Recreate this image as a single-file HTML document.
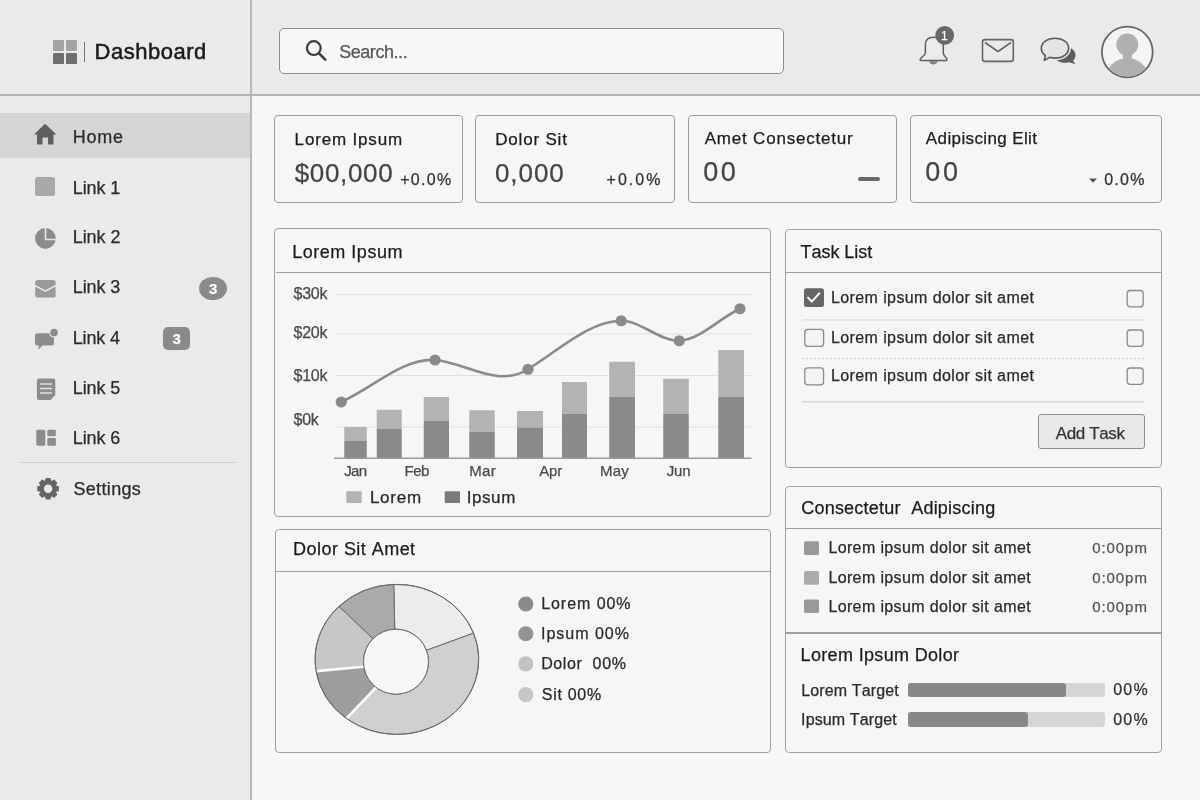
<!DOCTYPE html>
<html><head><meta charset="utf-8"><title>Dashboard</title>
<style>
html,body{margin:0;padding:0;width:1200px;height:800px;overflow:hidden;background:#f8f8f8}
body{position:relative;font-family:"Liberation Sans",sans-serif;filter:grayscale(1)}
.t{-webkit-text-stroke:0.25px currentColor}
.b{position:absolute}
.t{position:absolute;line-height:1;white-space:nowrap;font-kerning:none}
svg{position:absolute;left:0;top:0}
</style></head><body>
<div class="b" style="left:0px;top:0px;width:1200px;height:800px;background:#f7f7f7"></div>
<div class="b" style="left:0px;top:0px;width:251px;height:800px;background:#eaeaea"></div>
<div class="b" style="left:251px;top:0px;width:949px;height:94px;background:#eaeaea"></div>
<div class="b" style="left:0px;top:113px;width:250px;height:45px;background:#d5d5d5"></div>
<div class="b" style="left:250px;top:0px;width:2px;height:800px;background:#b9b9b9"></div>
<div class="b" style="left:0px;top:94px;width:1200px;height:2px;background:#b6b6b6"></div>
<div class="b" style="left:20px;top:462px;width:216px;height:1px;background:#d2d2d2"></div>
<div class="b" style="left:83.5px;top:42px;width:1.5px;height:20px;background:#777"></div>
<div class="b" style="left:279px;top:28.2px;width:505px;height:45.6px;background:#f7f7f7;border:1.5px solid #8c8c8c;border-radius:5px;box-sizing:border-box"></div>
<div class="b" style="left:199.1px;top:276.9px;width:27.6px;height:22.9px;background:#8a8a8a;border-radius:50%"></div>
<div class="b" style="left:162.8px;top:327px;width:27.4px;height:22.7px;background:#8a8a8a;border-radius:5px"></div>
<div class="b" style="left:274px;top:114.5px;width:188.5px;height:88px;background:#f6f6f6;border:1.2px solid #9c9c9c;border-radius:4px;box-sizing:border-box"></div>
<div class="b" style="left:475.1px;top:114.5px;width:200.1px;height:88px;background:#f6f6f6;border:1.2px solid #9c9c9c;border-radius:4px;box-sizing:border-box"></div>
<div class="b" style="left:687.8px;top:114.5px;width:209.2px;height:88px;background:#f6f6f6;border:1.2px solid #9c9c9c;border-radius:4px;box-sizing:border-box"></div>
<div class="b" style="left:909.9px;top:114.5px;width:252.5px;height:88px;background:#f6f6f6;border:1.2px solid #9c9c9c;border-radius:4px;box-sizing:border-box"></div>
<div class="b" style="left:857.6px;top:177px;width:22.4px;height:4px;background:#6a6a6a;border-radius:2px"></div>
<div class="b" style="left:274.3px;top:228.3px;width:496.8px;height:289px;background:#f6f6f6;border:1.2px solid #a0a0a0;border-radius:4px;box-sizing:border-box"></div>
<div class="b" style="left:275.5px;top:272px;width:494.5px;height:1.2px;background:#a0a0a0"></div>
<div class="b" style="left:784.8px;top:228.5px;width:377.4px;height:239.3px;background:#f6f6f6;border:1.2px solid #a0a0a0;border-radius:4px;box-sizing:border-box"></div>
<div class="b" style="left:785.8px;top:272px;width:375.4px;height:1.2px;background:#a0a0a0"></div>
<div class="b" style="left:274.5px;top:529px;width:496px;height:223.5px;background:#f6f6f6;border:1.2px solid #a0a0a0;border-radius:4px;box-sizing:border-box"></div>
<div class="b" style="left:275.5px;top:570.6px;width:494.5px;height:1.2px;background:#a0a0a0"></div>
<div class="b" style="left:784.8px;top:485.5px;width:377.4px;height:267px;background:#f6f6f6;border:1.2px solid #a0a0a0;border-radius:4px;box-sizing:border-box"></div>
<div class="b" style="left:785.8px;top:527.6px;width:375.4px;height:1.2px;background:#a0a0a0"></div>
<div class="b" style="left:785.8px;top:632.4px;width:375.4px;height:1.2px;background:#a0a0a0"></div>
<div class="b" style="left:1038.3px;top:414.3px;width:106.7px;height:35.2px;background:#e9e9e9;border:1.2px solid #8e8e8e;border-radius:3px;box-sizing:border-box"></div>
<div class="b" style="left:908.4px;top:682.7px;width:196.6px;height:14.6px;background:#d6d6d6;border-radius:3px"></div>
<div class="b" style="left:908.4px;top:682.7px;width:157.6px;height:14.6px;background:#888;border-radius:3px"></div>
<div class="b" style="left:908.4px;top:712px;width:196.6px;height:14.6px;background:#d6d6d6;border-radius:3px"></div>
<div class="b" style="left:908.4px;top:712px;width:119.6px;height:14.6px;background:#888;border-radius:3px"></div>
<svg width="1200" height="800" viewBox="0 0 1200 800">
<rect x="53" y="40" width="11" height="11" rx="1" fill="#a3a3a3"/>
<rect x="66" y="40" width="11" height="11" rx="1" fill="#a3a3a3"/>
<rect x="53" y="53" width="11" height="11" rx="1" fill="#6f6f6f"/>
<rect x="66" y="53" width="11" height="11" rx="1" fill="#6f6f6f"/>
<circle cx="313.8" cy="48.1" r="6.9" fill="none" stroke="#3c3c3c" stroke-width="2.2"/>
<line x1="319" y1="53.3" x2="325.3" y2="59.6" stroke="#3c3c3c" stroke-width="2.6" stroke-linecap="round"/>
<path d="M925.4 53 L925.4 44.5 C925.4 40 928.5 37.3 933.8 37.3 C939 37.3 943.3 40 943.3 44.5 L943.3 53 C943.3 56 947 57.5 947 59.5 Q947 60.6 945.8 60.6 L921.3 60.6 Q920.1 60.6 920.1 59.5 C920.1 57.5 925.4 56 925.4 53 Z" fill="#ececec" stroke="#5e5e5e" stroke-width="1.5" stroke-linejoin="round"/>
<path d="M929.8 61.3 A3.6 2.8 0 0 0 937 61.3 Z" fill="#8a8a8a" stroke="#777" stroke-width="0.8"/>
<circle cx="944.7" cy="35.3" r="9.4" fill="#686868"/>
<rect x="982.5" y="39.6" width="30.8" height="21.8" rx="2.5" fill="none" stroke="#666" stroke-width="1.6"/>
<path d="M985 42.5 L998 51.5 L1011 42.5" fill="none" stroke="#666" stroke-width="1.6" stroke-linejoin="round"/>
<path d="M1054 55 C1054 50 1059 47 1065 47 C1071 47 1075.5 50.5 1075.5 55 C1075.5 57.5 1074.5 59.5 1073 60.8 L1075.5 64.2 L1069 62.3 Q1067 62.8 1065 62.8 C1059 62.8 1054 59.5 1054 55 Z" fill="#5e5e5e"/>
<path d="M1055 38.3 C1047 38.3 1041.3 42.5 1041.3 48.2 C1041.3 51.5 1043 54 1045.3 55.5 L1044.3 60.4 L1050 57.3 Q1052.5 58.1 1055 58.1 C1063 58.1 1068.6 53.9 1068.6 48.2 C1068.6 42.5 1063 38.3 1055 38.3 Z" fill="none" stroke="#ececec" stroke-width="4.5" stroke-linejoin="round"/>
<path d="M1055 38.3 C1047 38.3 1041.3 42.5 1041.3 48.2 C1041.3 51.5 1043 54 1045.3 55.5 L1044.3 60.4 L1050 57.3 Q1052.5 58.1 1055 58.1 C1063 58.1 1068.6 53.9 1068.6 48.2 C1068.6 42.5 1063 38.3 1055 38.3 Z" fill="#e4e4e4" stroke="#5a5a5a" stroke-width="1.6" stroke-linejoin="round"/>
<defs><clipPath id="av"><circle cx="1127.3" cy="52" r="24.6"/></clipPath></defs>
<circle cx="1127.3" cy="52" r="25.4" fill="#f4f4f4" stroke="#666" stroke-width="1.8"/>
<g clip-path="url(#av)" fill="#b0b0b0"><circle cx="1127.3" cy="44.5" r="11"/><rect x="1123" y="52" width="9" height="8"/><ellipse cx="1127.3" cy="80" rx="22" ry="22"/></g>
<path d="M45 123.8 L34 134.5 L37 134.5 L37 144.4 L42.5 144.4 L42.5 137.5 L48 137.5 L48 144.4 L53.5 144.4 L53.5 134.5 L56.5 134.5 Z" fill="#5f5f5f"/>
<rect x="35" y="177" width="20" height="19" rx="2.5" fill="#a9a9a9"/>
<circle cx="45.4" cy="238.5" r="10.4" fill="#8c8c8c"/><path d="M45.5 227.5 L45.5 239.6 L56.5 239.6" fill="none" stroke="#eaeaea" stroke-width="1.5"/>
<rect x="35.2" y="280" width="20.4" height="17.6" rx="2.2" fill="#9a9a9a"/><path d="M35 285.6 L45.4 291.2 L55.8 285.6" fill="none" stroke="#eeeeee" stroke-width="1.5" stroke-linejoin="round"/>
<path d="M37.3 333.3 L51.5 333.3 Q54 333.3 54 335.8 L54 343 Q54 345.5 51.5 345.5 L42.5 345.5 L38.3 349.8 L38.8 345.5 L37.3 345.5 Q35 345.5 35 343 L35 335.8 Q35 333.3 37.3 333.3 Z" fill="#8c8c8c"/><circle cx="54.1" cy="332.6" r="4.4" fill="#8c8c8c" stroke="#ebebeb" stroke-width="1.2"/>
<path d="M39 378.6 L53 378.6 Q55.3 378.6 55.3 381 L55.3 395 L50.5 400 L39 400 Q36.9 400 36.9 398 L36.9 381 Q36.9 378.6 39 378.6 Z" fill="#8c8c8c"/><g stroke="#e6e6e6" stroke-width="1.4"><line x1="40" y1="384" x2="52" y2="384"/><line x1="40" y1="388.5" x2="52" y2="388.5"/><line x1="40" y1="393" x2="52" y2="393"/></g>
<rect x="36.3" y="429.7" width="9" height="16" rx="1.5" fill="#8c8c8c"/><rect x="47.3" y="429.7" width="8.6" height="6.5" rx="1.2" fill="#8c8c8c"/><rect x="47.3" y="438" width="8.6" height="7.7" rx="1.2" fill="#8c8c8c"/>
<g fill="#666"><circle cx="48.1" cy="488.7" r="8"/><path d="M45.1 482.7 L46.2 478.5 L50.0 478.5 L51.1 482.7 Z" stroke="#666" stroke-width="1.2" stroke-linejoin="round" transform="rotate(0 48.1 488.7)"/><path d="M45.1 482.7 L46.2 478.5 L50.0 478.5 L51.1 482.7 Z" stroke="#666" stroke-width="1.2" stroke-linejoin="round" transform="rotate(45 48.1 488.7)"/><path d="M45.1 482.7 L46.2 478.5 L50.0 478.5 L51.1 482.7 Z" stroke="#666" stroke-width="1.2" stroke-linejoin="round" transform="rotate(90 48.1 488.7)"/><path d="M45.1 482.7 L46.2 478.5 L50.0 478.5 L51.1 482.7 Z" stroke="#666" stroke-width="1.2" stroke-linejoin="round" transform="rotate(135 48.1 488.7)"/><path d="M45.1 482.7 L46.2 478.5 L50.0 478.5 L51.1 482.7 Z" stroke="#666" stroke-width="1.2" stroke-linejoin="round" transform="rotate(180 48.1 488.7)"/><path d="M45.1 482.7 L46.2 478.5 L50.0 478.5 L51.1 482.7 Z" stroke="#666" stroke-width="1.2" stroke-linejoin="round" transform="rotate(225 48.1 488.7)"/><path d="M45.1 482.7 L46.2 478.5 L50.0 478.5 L51.1 482.7 Z" stroke="#666" stroke-width="1.2" stroke-linejoin="round" transform="rotate(270 48.1 488.7)"/><path d="M45.1 482.7 L46.2 478.5 L50.0 478.5 L51.1 482.7 Z" stroke="#666" stroke-width="1.2" stroke-linejoin="round" transform="rotate(315 48.1 488.7)"/></g><circle cx="48.1" cy="488.7" r="4.2" fill="#eaeaea"/>
<path d="M1089 178.6 L1097 178.6 L1093 182.8 Z" fill="#555"/>
<line x1="336" y1="294.5" x2="751" y2="294.5" stroke="#e0e0e0" stroke-width="1.2"/>
<line x1="336" y1="334" x2="751" y2="334" stroke="#e0e0e0" stroke-width="1.2"/>
<line x1="336" y1="375.5" x2="751" y2="375.5" stroke="#e0e0e0" stroke-width="1.2"/>
<line x1="336" y1="427" x2="751" y2="427" stroke="#e0e0e0" stroke-width="1.2"/>
<rect x="344.25" y="427" width="22.5" height="13.75" fill="#b3b3b3"/>
<rect x="344.25" y="440.75" width="22.5" height="17.25" fill="#8a8a8a"/>
<rect x="376.75" y="409.75" width="25.0" height="19.25" fill="#b3b3b3"/>
<rect x="376.75" y="429" width="25.0" height="29" fill="#8a8a8a"/>
<rect x="423.75" y="397" width="25.25" height="23.75" fill="#b3b3b3"/>
<rect x="423.75" y="420.75" width="25.25" height="37.25" fill="#8a8a8a"/>
<rect x="469.25" y="410.25" width="25.5" height="21.5" fill="#b3b3b3"/>
<rect x="469.25" y="431.75" width="25.5" height="26.25" fill="#8a8a8a"/>
<rect x="517" y="411" width="26" height="16.5" fill="#b3b3b3"/>
<rect x="517" y="427.5" width="26" height="30.5" fill="#8a8a8a"/>
<rect x="562" y="382" width="25" height="32" fill="#b3b3b3"/>
<rect x="562" y="414" width="25" height="44" fill="#8a8a8a"/>
<rect x="609.25" y="361.75" width="25.75" height="35.0" fill="#b3b3b3"/>
<rect x="609.25" y="396.75" width="25.75" height="61.25" fill="#8a8a8a"/>
<rect x="663.25" y="378.75" width="25.5" height="35.25" fill="#b3b3b3"/>
<rect x="663.25" y="414" width="25.5" height="44" fill="#8a8a8a"/>
<rect x="718.25" y="350" width="25.75" height="46.75" fill="#b3b3b3"/>
<rect x="718.25" y="396.75" width="25.75" height="61.25" fill="#8a8a8a"/>
<line x1="334" y1="458.2" x2="751.5" y2="458.2" stroke="#9a9a9a" stroke-width="1.5"/>
<path d="M341.25 402.0 C372.50 387.94 403.75 357.50 435.0 360.0 C466.00 362.48 497.00 388.47 528.0 369.25 C559.08 349.98 590.17 320.75 621.25 320.75 C640.58 320.75 659.92 341.33 679.25 340.75 C699.50 340.14 719.75 317.86 740.0 308.75" fill="none" stroke="#8a8a8a" stroke-width="2.6"/>
<circle cx="341.25" cy="402" r="5.6" fill="#8a8a8a"/>
<circle cx="435" cy="360" r="5.6" fill="#8a8a8a"/>
<circle cx="528" cy="369.25" r="5.6" fill="#8a8a8a"/>
<circle cx="621.25" cy="320.75" r="5.6" fill="#8a8a8a"/>
<circle cx="679.25" cy="340.75" r="5.6" fill="#8a8a8a"/>
<circle cx="740" cy="308.75" r="5.6" fill="#8a8a8a"/>
<rect x="346.3" y="491.2" width="15.4" height="11.8" rx="1" fill="#b3b3b3"/>
<rect x="444.7" y="491.2" width="15.3" height="11.8" rx="1" fill="#7a7a7a"/>
<rect x="804" y="288.2" width="20" height="18.7" rx="2.5" fill="#666"/>
<path d="M808 297.6 L811.8 301.6 L819.3 293.4" fill="none" stroke="#fff" stroke-width="2" stroke-linecap="round" stroke-linejoin="round"/>
<rect x="804.8" y="329.4" width="18.8" height="17" rx="3" fill="#f4f4f4" stroke="#8a8a8a" stroke-width="1.3"/>
<rect x="804.8" y="367.8" width="18.8" height="17" rx="3" fill="#f4f4f4" stroke="#8a8a8a" stroke-width="1.3"/>
<rect x="1127.2" y="290.5" width="16" height="16.3" rx="3" fill="#f4f4f4" stroke="#8a8a8a" stroke-width="1.3"/>
<rect x="1127.2" y="330" width="16" height="16.3" rx="3" fill="#f4f4f4" stroke="#8a8a8a" stroke-width="1.3"/>
<rect x="1127.2" y="368" width="16" height="16.3" rx="3" fill="#f4f4f4" stroke="#8a8a8a" stroke-width="1.3"/>
<line x1="802" y1="319.8" x2="1144" y2="319.8" stroke="#dcdcdc" stroke-width="1.2"/>
<line x1="802" y1="358.6" x2="1144" y2="358.6" stroke="#cfcfcf" stroke-width="1" stroke-dasharray="2 2"/>
<line x1="802" y1="401.8" x2="1144" y2="401.8" stroke="#d6d6d6" stroke-width="1.5"/>
<path d="M393.76 584.46 A81.8 75 0 0 1 473.52 633.13 L426.44 650.32 A32.5 32.5 0 0 0 394.75 629.22 Z" fill="#ececec" stroke="#6a6a6a" stroke-width="1" stroke-linejoin="round"/>
<path d="M473.52 633.13 A81.8 75 0 0 1 346.54 718.50 L375.99 687.31 A32.5 32.5 0 0 0 426.44 650.32 Z" fill="#d0d0d0" stroke="#6a6a6a" stroke-width="1" stroke-linejoin="round"/>
<path d="M346.54 718.50 A81.8 75 0 0 1 316.11 671.13 L363.90 666.78 A32.5 32.5 0 0 0 375.99 687.31 Z" fill="#9d9d9d" stroke="#6a6a6a" stroke-width="1" stroke-linejoin="round"/>
<path d="M316.11 671.13 A81.8 75 0 0 1 339.06 606.37 L373.02 638.72 A32.5 32.5 0 0 0 363.90 666.78 Z" fill="#c7c7c7" stroke="#6a6a6a" stroke-width="1" stroke-linejoin="round"/>
<path d="M339.06 606.37 A81.8 75 0 0 1 393.76 584.46 L394.75 629.22 A32.5 32.5 0 0 0 373.02 638.72 Z" fill="#aaaaaa" stroke="#6a6a6a" stroke-width="1" stroke-linejoin="round"/>
<line x1="375.99" y1="687.31" x2="346.54" y2="718.50" stroke="#fafafa" stroke-width="2.6"/>
<line x1="363.90" y1="666.78" x2="316.11" y2="671.13" stroke="#fafafa" stroke-width="2.6"/>
<ellipse cx="396.9" cy="659.4" rx="81.8" ry="75" fill="none" stroke="#6a6a6a" stroke-width="1"/>
<circle cx="396" cy="661.7" r="32.5" fill="#f7f7f7" stroke="#6a6a6a" stroke-width="1"/>
<circle cx="525.8" cy="604" r="7.6" fill="#8a8a8a"/>
<circle cx="525.8" cy="633.75" r="7.6" fill="#939393"/>
<circle cx="525.8" cy="663.9" r="7.6" fill="#c2c2c2"/>
<circle cx="525.8" cy="694.7" r="7.6" fill="#c6c6c6"/>
<rect x="804" y="541.3" width="15" height="13.7" rx="1.5" fill="#9a9a9a"/>
<rect x="804" y="571" width="15" height="13.7" rx="1.5" fill="#ababab"/>
<rect x="804" y="599.4" width="15" height="13.7" rx="1.5" fill="#9a9a9a"/>
</svg>
<div class="t" style="left:94.60px;top:41.00px;font-size:22px;color:#1a1a1a;letter-spacing:0.500px;-webkit-text-stroke:0.5px #1a1a1a;">Dashboard</div>
<div class="t" style="left:339.18px;top:43.00px;font-size:18px;color:#575757;letter-spacing:-0.447px;">Search...</div>
<div class="t" style="left:941.09px;top:30.00px;font-size:12px;color:#fff;">1</div>
<div class="t" style="left:72.72px;top:128.00px;font-size:18px;color:#2a2a2a;letter-spacing:0.754px;">Home</div>
<div class="t" style="left:72.72px;top:179.00px;font-size:18px;color:#2a2a2a;letter-spacing:-0.075px;">Link 1</div>
<div class="t" style="left:72.72px;top:228.00px;font-size:18px;color:#2a2a2a;letter-spacing:-0.070px;">Link 2</div>
<div class="t" style="left:72.72px;top:278.00px;font-size:18px;color:#2a2a2a;letter-spacing:-0.093px;">Link 3</div>
<div class="t" style="left:72.72px;top:329.00px;font-size:18px;color:#2a2a2a;letter-spacing:-0.146px;">Link 4</div>
<div class="t" style="left:72.72px;top:379.00px;font-size:18px;color:#2a2a2a;letter-spacing:-0.100px;">Link 5</div>
<div class="t" style="left:72.72px;top:429.00px;font-size:18px;color:#2a2a2a;letter-spacing:-0.093px;">Link 6</div>
<div class="t" style="left:73.38px;top:480.00px;font-size:18px;color:#2a2a2a;letter-spacing:0.347px;">Settings</div>
<div class="t" style="left:209.06px;top:281.00px;font-size:15px;color:#fff;font-weight:bold;">3</div>
<div class="t" style="left:172.46px;top:331.00px;font-size:15px;color:#fff;font-weight:bold;">3</div>
<div class="t" style="left:294.61px;top:131.00px;font-size:17px;color:#1c1c1c;letter-spacing:0.831px;">Lorem Ipsum</div>
<div class="t" style="left:294.72px;top:160.00px;font-size:26px;color:#444;letter-spacing:0.652px;">$00,000</div>
<div class="t" style="left:400.22px;top:172.00px;font-size:16px;color:#333;letter-spacing:1.285px;">+0.0%</div>
<div class="t" style="left:495.21px;top:131.00px;font-size:17px;color:#1c1c1c;letter-spacing:0.814px;">Dolor Sit</div>
<div class="t" style="left:494.98px;top:160.00px;font-size:26px;color:#444;letter-spacing:0.942px;">0,000</div>
<div class="t" style="left:606.62px;top:172.00px;font-size:16px;color:#333;letter-spacing:2.010px;">+0.0%</div>
<div class="t" style="left:704.72px;top:130.00px;font-size:17px;color:#1c1c1c;letter-spacing:0.790px;">Amet Consectetur</div>
<div class="t" style="left:703.35px;top:159.00px;font-size:27px;color:#444;letter-spacing:2.277px;">00</div>
<div class="t" style="left:925.87px;top:130.00px;font-size:17px;color:#1c1c1c;letter-spacing:0.374px;">Adipiscing Elit</div>
<div class="t" style="left:925.25px;top:159.00px;font-size:27px;color:#444;letter-spacing:2.777px;">00</div>
<div class="t" style="left:1104.17px;top:172.00px;font-size:16px;color:#333;letter-spacing:1.309px;">0.0%</div>
<div class="t" style="left:292.27px;top:243.00px;font-size:18px;color:#1c1c1c;letter-spacing:0.512px;">Lorem Ipsum</div>
<div class="t" style="left:293.58px;top:286.00px;font-size:16px;color:#4a4a4a;letter-spacing:-0.266px;">$30k</div>
<div class="t" style="left:293.58px;top:325.00px;font-size:16px;color:#4a4a4a;letter-spacing:-0.266px;">$20k</div>
<div class="t" style="left:293.58px;top:368.00px;font-size:16px;color:#4a4a4a;letter-spacing:-0.266px;">$10k</div>
<div class="t" style="left:293.58px;top:412.00px;font-size:16px;color:#4a4a4a;letter-spacing:-0.324px;">$0k</div>
<div class="t" style="left:344.27px;top:463.00px;font-size:15px;color:#4a4a4a;letter-spacing:-0.738px;">Jan</div>
<div class="t" style="left:404.52px;top:463.00px;font-size:15px;color:#4a4a4a;letter-spacing:-0.493px;">Feb</div>
<div class="t" style="left:469.27px;top:463.00px;font-size:15px;color:#4a4a4a;letter-spacing:0.323px;">Mar</div>
<div class="t" style="left:539.22px;top:463.00px;font-size:15px;color:#4a4a4a;letter-spacing:-0.157px;">Apr</div>
<div class="t" style="left:600.02px;top:463.00px;font-size:15px;color:#4a4a4a;letter-spacing:0.211px;">May</div>
<div class="t" style="left:666.77px;top:463.00px;font-size:15px;color:#4a4a4a;letter-spacing:-0.238px;">Jun</div>
<div class="t" style="left:369.91px;top:489.00px;font-size:17px;color:#2a2a2a;letter-spacing:0.757px;">Lorem</div>
<div class="t" style="left:466.73px;top:489.00px;font-size:17px;color:#2a2a2a;letter-spacing:0.574px;">Ipsum</div>
<div class="t" style="left:800.60px;top:243.00px;font-size:18px;color:#1c1c1c;letter-spacing:-0.060px;">Task List</div>
<div class="t" style="left:830.94px;top:290.00px;font-size:16px;color:#2a2a2a;letter-spacing:0.399px;">Lorem ipsum dolor sit amet</div>
<div class="t" style="left:830.94px;top:330.00px;font-size:16px;color:#2a2a2a;letter-spacing:0.399px;">Lorem ipsum dolor sit amet</div>
<div class="t" style="left:830.94px;top:368.00px;font-size:16px;color:#2a2a2a;letter-spacing:0.399px;">Lorem ipsum dolor sit amet</div>
<div class="t" style="left:1055.72px;top:425.00px;font-size:17px;color:#333;letter-spacing:-0.365px;">Add Task</div>
<div class="t" style="left:293.12px;top:540.00px;font-size:18px;color:#1c1c1c;letter-spacing:0.460px;">Dolor Sit Amet</div>
<div class="t" style="left:541.19px;top:596.00px;font-size:16px;color:#2a2a2a;letter-spacing:0.945px;">Lorem 00%</div>
<div class="t" style="left:541.02px;top:626.00px;font-size:16px;color:#2a2a2a;letter-spacing:0.988px;">Ipsum 00%</div>
<div class="t" style="left:541.19px;top:656.00px;font-size:16px;color:#2a2a2a;letter-spacing:0.615px;">Dolor&nbsp; 00%</div>
<div class="t" style="left:541.77px;top:687.00px;font-size:16px;color:#2a2a2a;letter-spacing:0.709px;">Sit 00%</div>
<div class="t" style="left:801.19px;top:499.00px;font-size:18px;color:#1c1c1c;letter-spacing:0.226px;">Consectetur&nbsp; Adipiscing</div>
<div class="t" style="left:828.39px;top:540.00px;font-size:16px;color:#2a2a2a;letter-spacing:0.371px;">Lorem ipsum dolor sit amet</div>
<div class="t" style="left:1092.21px;top:540.00px;font-size:15px;color:#555;letter-spacing:0.929px;">0:00pm</div>
<div class="t" style="left:828.39px;top:570.00px;font-size:16px;color:#2a2a2a;letter-spacing:0.371px;">Lorem ipsum dolor sit amet</div>
<div class="t" style="left:1092.21px;top:570.00px;font-size:15px;color:#555;letter-spacing:0.929px;">0:00pm</div>
<div class="t" style="left:828.39px;top:599.00px;font-size:16px;color:#2a2a2a;letter-spacing:0.371px;">Lorem ipsum dolor sit amet</div>
<div class="t" style="left:1092.21px;top:599.00px;font-size:15px;color:#555;letter-spacing:0.929px;">0:00pm</div>
<div class="t" style="left:800.62px;top:646.00px;font-size:18px;color:#1c1c1c;letter-spacing:0.333px;">Lorem Ipsum Dolor</div>
<div class="t" style="left:801.29px;top:683.00px;font-size:16px;color:#2a2a2a;letter-spacing:0.126px;">Lorem Target</div>
<div class="t" style="left:801.12px;top:712.00px;font-size:16px;color:#2a2a2a;letter-spacing:0.121px;">Ipsum Target</div>
<div class="t" style="left:1113.17px;top:682.00px;font-size:16px;color:#333;letter-spacing:1.286px;">00%</div>
<div class="t" style="left:1113.17px;top:712.00px;font-size:16px;color:#333;letter-spacing:1.286px;">00%</div>
</body></html>
